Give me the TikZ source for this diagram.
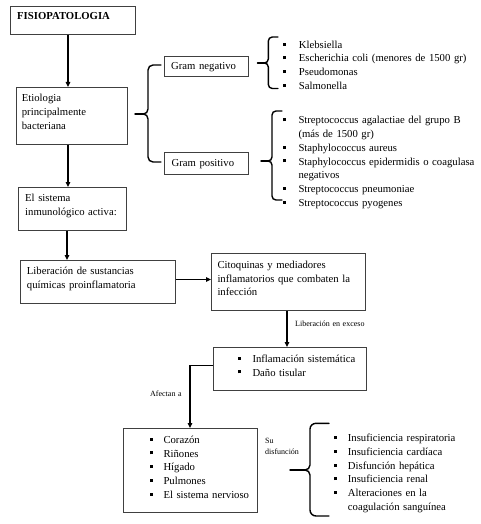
\documentclass[tikz,border=0pt]{standalone}
\usepackage{fontspec}
\setmainfont{Liberation Serif}
\usetikzlibrary{arrows.meta}
\definecolor{boxc}{HTML}{404040}
\newcommand{\bl}[1]{\makebox[#1][l]{\rule[2.6pt]{3pt}{3pt}}}
\begin{document}
\begin{tikzpicture}[x=1pt,y=-1pt,
  box/.style={draw=boxc,line width=0.9pt,anchor=north west,inner sep=0pt},
  txt/.style={anchor=base west,inner sep=0pt,align=left,text width=#1,font=\fontsize{10.7}{13.7}\selectfont},
  txt/.default=200pt,
  small/.style={anchor=base west,inner sep=0pt,align=left,text width=100pt,font=\fontsize{8}{11}\selectfont},
  arr/.style={line width=1.2pt,-{Triangle[length=5pt,width=4.5pt]}},
  brace/.style={line width=1.4pt,line cap=round}]
\useasboundingbox[fill=white] (0,0) rectangle (480,524);

% boxes
\node[box,minimum width=125pt,minimum height=28pt] (fisio) at (10,6) {};
\node[box,minimum width=111pt,minimum height=57pt] (etio) at (16,87) {};
\node[box,minimum width=84pt,minimum height=20pt] (gneg) at (164,56) {};
\node[box,minimum width=84pt,minimum height=22pt] (gpos) at (164,152) {};
\node[box,minimum width=108pt,minimum height=43pt] (sist) at (18,187) {};
\node[box,minimum width=155pt,minimum height=43pt] (lib) at (20,260) {};
\node[box,minimum width=154pt,minimum height=57pt] (cito) at (211,253) {};
\node[box,minimum width=153pt,minimum height=43pt] (infl) at (213,347) {};
\node[box,minimum width=134pt,minimum height=84pt] (cora) at (123,428) {};

% texts
\node[txt] (tfisio) at (17,20) {\bfseries FISIOPATOLOGIA};
\node[txt] (tetio) at (21.7,101.7) {Etiologia\\principalmente\\bacteriana};
\node[txt] (tgneg) at (171,69.5) {Gram negativo};
\node[txt] (tgpos) at (171.5,166) {Gram positivo};
\node[txt] (lneg) at (282.7,48.3) {\bl{16pt}Klebsiella\\\bl{16pt}Escherichia coli (menores de 1500 gr)\\\bl{16pt}Pseudomonas\\\bl{16pt}Salmonella};
\node[txt] (lpos) at (283,124) {\bl{15.3pt}Streptococcus agalactiae del grupo B\\\hspace*{15.3pt}(más de 1500 gr)\\\bl{15.3pt}Staphylococcus aureus\\\bl{15.3pt}Staphylococcus epidermidis o coagulasa\\\hspace*{15.3pt}negativos\\\bl{15.3pt}Streptococcus pneumoniae\\\bl{15.3pt}Streptococcus pyogenes};
\node[txt] (tsist) at (25,201.7) {El sistema\\inmunológico activa:};
\node[txt] (tlib) at (26.7,274.3) {Liberación de sustancias\\químicas proinflamatoria};
\node[txt] (tcito) at (217.3,268.3) {Citoquinas y mediadores\\inflamatorios que combaten la\\infección};
\node[txt] (linfl) at (237.7,362.3) {\bl{14.6pt}Inflamación sistemática\\\bl{14.6pt}Daño tisular};
\node[txt] (lcora) at (149.3,443.3) {\bl{14pt}Corazón\\\bl{14pt}Riñones\\\bl{14pt}Hígado\\\bl{14pt}Pulmones\\\bl{14pt}El sistema nervioso};
\node[txt] (ldys) at (333.3,441.7) {\bl{14.4pt}Insuficiencia respiratoria\\\bl{14.4pt}Insuficiencia cardíaca\\\bl{14.4pt}Disfunción hepática\\\bl{14.4pt}Insuficiencia renal\\\bl{14.4pt}Alteraciones en la\\\hspace*{14.4pt}coagulación sanguínea};
\node[small] (lexc) at (295,326) {Liberación en exceso};
\node[small] (lafe) at (150,396.7) {Afectan a};
\node[small] (lsu) at (265,443.3) {Su\\disfunción};

% arrows
\draw[arr] ([xshift=58pt]fisio.south west) -- ([xshift=52pt]etio.north west);
\draw[arr] ([xshift=52pt]etio.south west) -- ([xshift=50pt]sist.north west);
\draw[arr] ([xshift=49pt]sist.south west) -- ([xshift=47pt]lib.north west);
\draw[arr] ([yshift=2.5pt]lib.east) -- ([yshift=2.5pt]lib.east -| cito.west);
\draw[arr] ([xshift=76pt]cito.south west) -- ([xshift=74pt]infl.north west);
\draw[arr] ([yshift=3.5pt]infl.west) -| ([xshift=67pt]cora.north west);

% braces
\draw[brace] (161,65) -- (153,65) to[out=180,in=90] (148,70) -- (148,109) to[out=270,in=0] (143.5,114) to[out=0,in=90] (148,119) -- (148,157) to[out=270,in=180] (153,162) -- (161,162);
\draw[brace] (135,114) -- (143.5,114);
\draw[brace] (278,37) -- (272.3,37) to[out=180,in=90] (268.3,41) -- (268.3,59) to[out=270,in=0] (264.5,63) to[out=0,in=90] (268.3,67) -- (268.3,84.5) to[out=270,in=180] (272.3,88.5) -- (278,88.5);
\draw[brace] (257.5,63) -- (264.5,63);
\draw[brace] (282,111) -- (276,111) to[out=180,in=90] (272,115) -- (272,157) to[out=270,in=0] (268,161) to[out=0,in=90] (272,165) -- (272,196) to[out=270,in=180] (276,200) -- (282,200);
\draw[brace] (261,161) -- (268,161);
\draw[brace] (329,423.3) -- (316,423.3) to[out=180,in=90] (310,429) -- (310,465) to[out=270,in=0] (305,470) to[out=0,in=90] (310,475) -- (310,510) to[out=270,in=180] (316,516) -- (329,516);
\draw[brace] (290,470) -- (305,470);
\end{tikzpicture}
\end{document}
